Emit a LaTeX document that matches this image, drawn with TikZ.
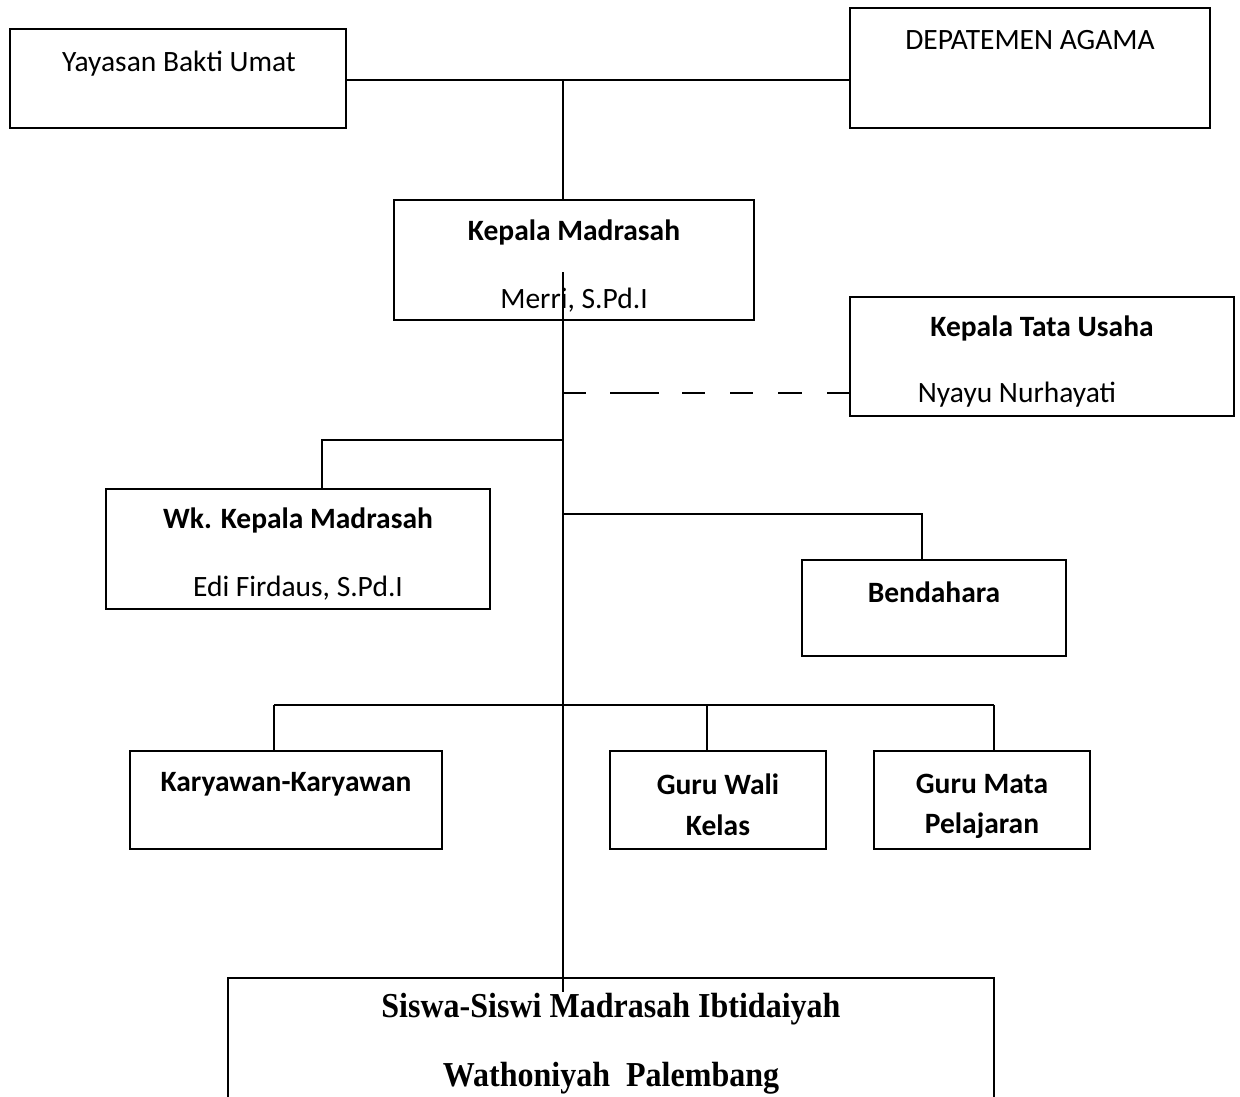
\documentclass[tikz,border=0pt]{standalone}
\usepackage{fontspec}
\setmainfont{Carlito}
\newfontfamily\timesfont{Liberation Serif}
\begin{document}
\begin{tikzpicture}[x=1pt,y=-1pt,
  box/.style={draw, line width=1.6pt, inner sep=0pt},
  conn/.style={line width=1.6pt},
  txt/.style={inner sep=0pt, font=\fontsize{29.5}{34}\selectfont},
  btxt/.style={inner sep=0pt, font=\fontsize{29.5}{34}\selectfont\bfseries},
  stxt/.style={inner sep=0pt, font=\timesfont\fontsize{35}{40}\selectfont\bfseries}]
\useasboundingbox (0,0) rectangle (1240,1096);
\clip (0,0) rectangle (1240,1096);
% boxes
\node[box, minimum width=336pt, minimum height=99pt] (yay) at (178,78.5) {};
\node[box, minimum width=360pt, minimum height=120pt] (dep) at (1030,68) {};
\node[box, minimum width=360pt, minimum height=120pt] (kep) at (574,260) {};
\node[box, minimum width=384pt, minimum height=119pt] (ktu) at (1042,356.5) {};
\node[box, minimum width=384pt, minimum height=120pt] (wk) at (298,549) {};
\node[box, minimum width=264pt, minimum height=96pt] (ben) at (934,608) {};
\node[box, minimum width=312pt, minimum height=98pt] (kar) at (286,800) {};
\node[box, minimum width=216pt, minimum height=98pt] (gwk) at (718,800) {};
\node[box, minimum width=216pt, minimum height=98pt] (gmp) at (982,800) {};
\node[box, minimum width=766pt, minimum height=142pt] (sis) at (611,1049) {};
% texts
\node[txt] (t1) at (179,64) {Yayasan Bakti Umat};
\node[txt] (t2) at (1030,40) {DEPATEMEN AGAMA};
\node[btxt] (t3) at (574,232) {Kepala Madrasah};
\node[txt] (t4) at (574,300) {Merri, S.Pd.I};
\node[btxt] (t5) at (1042,328) {Kepala Tata Usaha};
\node[txt] (t6) at (1017,395) {Nyayu Nurhayati};
\node[btxt] (t7) at (298,520) {Wk. Kepala Madrasah};
\node[txt] (t8) at (298,588) {Edi Firdaus, S.Pd.I};
\node[btxt] (t9) at (934,592) {Bendahara};
\node[btxt] (t10) at (286,784) {Karyawan-Karyawan};
\node[btxt] (t11) at (718,784) {Guru Wali};
\node[btxt] (t12) at (718,825) {Kelas};
\node[btxt] (t13) at (982,784) {Guru Mata};
\node[btxt] (t14) at (982,826) {Pelajaran};
\node[stxt] (t15) at (611,1009) {\scalebox{0.915}[1]{Siswa-Siswi Madrasah Ibtidaiyah}};
\node[stxt] (t16) at (611,1078) {\scalebox{0.915}[1]{Wathoniyah\ \ Palembang}};
% junction coordinates
\coordinate (top) at (563,80);
\coordinate (mid) at (563,272);
\coordinate (dj) at (563,393);
\coordinate (wj) at (563,440);
\coordinate (wkt) at (322,489);
\coordinate (bj) at (563,514);
\coordinate (bent) at (922,560);
\coordinate (kj) at (563,705);
\coordinate (kart) at (274,751);
\coordinate (gwkt) at (707,751);
\coordinate (gmpt) at (994,751);
\coordinate (bot) at (563,992);
% connectors
\draw[conn] (yay.east |- top) -- (dep.west |- top);
\draw[conn] (top) -- (top |- kep.north);
\draw[conn] (mid) -- (bot);
\draw[conn, dash pattern=on 23pt off 24pt on 49pt off 23pt on 23pt off 25pt on 23pt off 25pt on 24pt off 25pt on 30pt] (dj) -- (dj -| ktu.west);
\draw[conn] (wj) -| (wkt);
\draw[conn] (bj) -| (bent);
\draw[conn] (kart |- kj) -- (gmpt |- kj);
\draw[conn] (kart |- kj) -- (kart);
\draw[conn] (gwkt |- kj) -- (gwkt);
\draw[conn] (gmpt |- kj) -- (gmpt);
\end{tikzpicture}
\end{document}
